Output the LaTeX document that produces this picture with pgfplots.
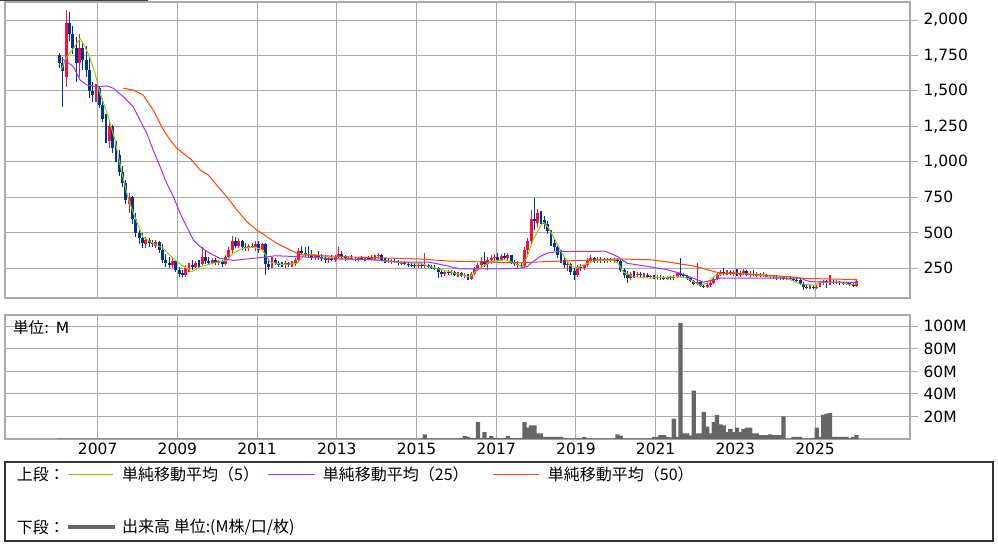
\documentclass[border=0pt]{standalone}
\usepackage{pgfplots}
\pgfplotsset{compat=1.18}
\usepackage{pgfplotstable}
\usepackage{fontspec}
\setmainfont{DejaVu Sans}
\newfontfamily\cjk{Noto Sans CJK JP}
\definecolor{upred}{RGB}{255,10,60}
\definecolor{downblue}{RGB}{0,51,153}
\definecolor{maA}{RGB}{153,204,0}
\definecolor{maB}{RGB}{153,51,255}
\definecolor{maC}{RGB}{255,69,0}
\definecolor{volgray}{RGB}{102,102,102}
\definecolor{gridgray}{RGB}{170,170,170}
\pgfplotstableread{
m o h l c
0 1750 1770 1660 1700
1 1700 1740 1390 1640
2 1600 2070 1530 1980
3 1980 2060 1850 1900
4 1900 1960 1760 1800
5 1800 1880 1560 1700
6 1700 1900 1600 1800
7 1800 1840 1650 1720
8 1720 1820 1600 1650
9 1650 1740 1450 1500
10 1500 1560 1420 1470
11 1470 1550 1420 1520
12 1520 1530 1380 1400
13 1400 1450 1280 1300
14 1300 1340 1130 1150
15 1150 1290 1100 1250
16 1250 1260 1060 1100
17 1100 1150 1000 1050
18 1050 1080 900 930
19 930 970 820 850
20 850 870 700 730
21 700 780 640 750
22 750 760 560 600
23 600 640 470 500
24 500 520 420 460
25 460 500 390 430
26 420 470 390 450
27 450 460 400 430
28 430 450 400 420
29 410 450 390 435
30 435 440 360 380
31 380 420 290 310
32 310 350 260 290
33 290 330 250 270
34 270 320 250 300
35 300 310 220 240
36 240 260 190 210
37 215 240 185 200
38 200 270 185 250
39 250 290 220 270
40 270 310 240 260
41 260 300 250 290
42 290 310 260 280
43 280 400 270 330
44 330 370 280 300
45 300 330 270 290
46 290 320 280 310
47 310 320 270 290
48 290 310 270 300
49 300 310 260 280
50 280 340 270 330
51 330 400 320 380
52 380 480 360 440
53 440 470 390 410
54 410 460 390 440
55 440 450 380 400
56 400 430 370 390
57 390 420 370 410
58 410 430 390 400
59 400 440 370 420
60 420 440 360 380
61 380 430 370 420
62 420 430 200 280
63 280 320 240 260
64 260 330 250 310
65 310 320 270 290
66 290 300 260 275
67 275 295 260 270
68 270 300 255 285
69 285 295 260 270
70 270 300 260 290
71 290 320 265 310
72 310 390 300 370
73 370 410 340 360
74 360 400 330 350
75 350 410 320 340
76 340 380 310 330
77 330 350 310 340
78 340 370 310 330
79 330 350 300 320
80 320 340 290 310
81 310 330 290 320
82 320 340 300 310
83 310 340 295 330
84 330 400 320 350
85 350 370 310 330
86 330 345 300 320
87 320 335 305 325
88 325 340 305 315
89 315 330 300 310
90 310 330 300 320
91 320 335 305 315
92 315 330 300 325
93 325 335 305 315
94 315 340 305 330
95 330 345 315 335
96 335 355 315 345
97 345 350 300 310
98 310 325 290 300
99 300 320 285 295
100 295 315 280 300
101 300 320 285 295
102 295 310 275 285
103 285 300 270 290
104 290 300 270 280
105 280 295 262 275
106 275 290 260 270
107 270 285 255 265
108 265 290 250 275
109 275 285 255 265
110 265 355 255 270
111 270 280 250 260
112 260 275 245 255
113 255 270 240 250
114 250 260 180 225
115 225 240 185 210
116 210 235 195 225
117 225 240 200 215
118 215 235 200 220
119 220 230 195 205
120 205 225 190 215
121 215 225 185 195
122 195 215 180 200
123 200 210 165 175
124 175 220 165 210
125 210 260 200 245
126 245 290 230 275
127 275 330 255 300
128 300 365 260 280
129 280 330 240 310
130 310 340 280 320
131 320 350 290 330
132 330 355 300 310
133 310 350 300 335
134 335 355 310 320
135 320 360 300 340
136 340 345 280 290
137 290 310 265 280
138 280 300 255 270
139 270 290 250 265
140 265 400 255 380
141 380 460 340 440
142 440 660 420 600
143 600 745 520 580
144 570 670 540 640
145 640 650 560 590
146 590 620 530 560
147 560 580 490 510
148 510 520 410 430
149 430 460 370 400
150 400 420 320 340
151 340 380 290 310
152 310 330 250 270
153 270 300 230 280
154 280 290 200 220
155 230 260 165 200
156 200 275 190 260
157 260 280 230 250
158 250 275 235 270
159 270 320 260 300
160 300 340 285 320
161 320 330 290 300
162 300 330 285 310
163 310 330 290 305
164 305 320 285 300
165 300 320 290 310
166 310 325 295 305
167 305 320 290 310
168 310 325 290 300
169 300 310 220 240
170 240 250 180 200
171 200 230 145 180
172 180 225 165 210
173 210 230 180 200
174 200 220 185 210
175 210 220 190 200
176 200 215 185 205
177 205 215 180 190
178 190 205 175 195
179 195 205 175 185
180 185 200 170 190
181 190 200 170 180
182 180 195 165 175
183 175 195 165 185
184 185 195 170 180
185 180 200 170 190
186 190 225 180 215
187 215 320 185 200
188 200 215 185 195
189 195 205 170 180
190 180 190 150 160
191 160 170 130 140
192 140 285 130 150
193 150 160 115 125
194 125 140 110 120
195 120 145 108 135
196 135 160 120 145
197 145 185 140 175
198 175 225 170 210
199 210 240 195 220
200 220 255 200 215
201 215 240 200 225
202 225 240 200 210
203 210 235 195 220
204 220 245 195 205
205 205 230 190 215
206 215 245 200 230
207 230 240 195 205
208 205 230 190 210
209 210 235 195 200
210 200 220 190 205
211 205 215 185 195
212 195 225 185 200
213 200 210 185 190
214 190 205 175 195
215 195 205 175 185
216 185 205 170 180
217 180 195 170 185
218 185 195 165 175
219 175 190 165 180
220 180 195 165 175
221 175 190 160 170
222 170 185 155 165
223 165 175 130 140
224 140 150 96 120
225 120 135 105 115
226 115 130 105 120
227 120 130 105 115
228 115 130 100 120
229 120 160 115 150
230 150 165 130 160
231 160 170 110 150
232 150 200 135 155
233 155 170 140 150
234 150 165 140 155
235 155 160 135 145
236 145 155 130 140
237 140 150 130 145
238 145 150 125 135
239 135 145 120 130
240 125 175 120 160
}\candles
\pgfplotsset{
  chartbase/.style={
    scale only axis, width=905pt,
    xmin=-16.41, xmax=256.1,
    xtick={11.5,35.5,...,227.5},
    grid=major,
    major grid style={gridgray, line width=1pt},
    axis line style={gridgray, line width=1.2pt},
    tick style={gridgray, line width=1pt},
    major tick length=8pt,
    xtick align=inside, ytick align=outside,
    xtick pos=bottom, ytick pos=right, yticklabel pos=right,
    /pgf/number format/assume math mode=true,
    /pgf/number format/1000 sep={,},
    yticklabel style={xshift=2pt, text=black},
    xticklabel style={text=black},
  },
  wick/.style={line width=1.1pt, forget plot, quiver={u=0, v=\thisrow{h}-\thisrow{l}}, -},
  body/.style={line width=2.9pt, forget plot, quiver={u=0, v=\thisrow{c}-\thisrow{o}}, -},
  upfilter/.style={restrict expr to domain={\thisrow{c}-\thisrow{o}}{0:100000}},
  downfilter/.style={restrict expr to domain={\thisrow{c}-\thisrow{o}}{-100000:-0.01}},
}
\begin{document}
\begin{tikzpicture}[font=\fontsize{15.5}{18}\selectfont]
\path[use as bounding box] (0pt,0pt) rectangle (998pt,-546pt);
\fill[black!75] (0pt,0pt) rectangle (148pt,-1.2pt);
\begin{axis}[chartbase,
  at={(5pt,-298pt)}, anchor=south west, height=296pt,
  ymin=40, ymax=2127,
  ytick={250,500,...,2000},
  xticklabels={},
]
\addplot[upred, wick, upfilter] table[x=m, y=l] {\candles};
\addplot[upred, body, upfilter] table[x=m, y=o] {\candles};
\addplot[downblue, wick, downfilter] table[x=m, y=l] {\candles};
\addplot[downblue, body, downfilter] table[x=m, y=o] {\candles};
% MA5
\addplot[maA, line width=1pt, mark=none] coordinates {
(0.45,1647) (2.2,1740) (4.2,1800) (6.2,1870) (7.7,1810) (9.2,1730) (10.7,1625) (12.2,1485) (14.3,1345) (16.7,1155) (18.8,920) (20.6,750) (22.7,610) (25.1,470) (28.2,425) (31.2,390) (34.2,320) (36.9,270) (39.9,225) (42.3,260) (46.2,285) (50.4,305) (52.2,355) (55.3,390) (58.3,400) (61.0,380) (63.4,295) (67.3,275) (71.5,285) (73.9,350) (76.9,345) (84.5,315) (93.5,310) (102.5,290) (108.5,285) (113.1,250) (117.6,225) (122.1,195) (123.6,190) (126.0,240) (129.6,295) (134.1,310) (137.2,285) (139.3,260) (140.8,330) (142.6,450) (144.7,540) (145.6,575) (147.1,540) (149.2,450) (151.3,355) (153.7,270) (155.8,250) (158.8,285) (161.8,305) (166.7,305) (168.2,285) (169.7,225) (172.7,190) (177.8,180) (186.0,190) (189.0,180) (192.9,130) (195.0,145) (197.4,200) (200.9,215) (204.9,215) (210.9,200) (216.9,185) (220.0,170) (222.9,140) (227.5,130) (229.0,150) (235.0,150) (238.0,135) (240.1,140)
};
% MA25
\addplot[maB, line width=1pt, mark=none] coordinates {
(0.65,1730) (2.2,1706) (4.2,1671) (6.2,1577) (8.2,1542) (11.2,1530) (14.2,1535) (16.2,1519) (19.2,1460) (22.2,1389) (24.2,1295) (26.3,1201) (28.2,1084) (30.3,966) (32.3,849) (34.3,755) (36.3,638) (38.3,543) (40.3,449) (42.3,402) (45.3,356) (48.3,320) (52.3,305) (56.4,315) (60.4,325) (62.5,330) (65,338) (71.4,332) (81.5,318) (95,310) (102.5,294) (111.5,292) (116.1,270) (120.6,245) (132.6,245) (138.7,250) (140.8,262) (142.6,297) (144.7,332) (146.8,356) (149.8,367) (164.2,370) (166.4,350) (168.2,330) (170.9,285) (177.8,260) (182.9,240) (186.8,215) (190.8,180) (193.8,152) (196.8,166) (198.9,180) (222.9,180) (226,155) (240.1,150)
};
% MA50
\addplot[maC, line width=1pt, mark=none] coordinates {
(19.2,1519) (22.2,1507) (25.2,1471) (28.2,1366) (31.3,1225) (33.3,1154) (35.3,1096) (37.3,1060) (39.8,1013) (42.3,943) (44.8,908) (47.3,837) (50.3,755) (53.4,661) (56.4,578) (59.4,520) (62.4,473) (65.4,426) (68.4,391) (71.4,356) (73.3,344) (87.5,330) (108.5,315) (117.6,300) (138.7,288) (144.7,295) (156.7,305) (168.8,315) (177.8,310) (182.9,295) (189.8,270) (192,260) (195,240) (198.9,215) (204.9,212) (213.9,200) (219.9,190) (224.5,178) (240.1,170)
};
\end{axis}
\begin{axis}[chartbase,
  at={(5pt,-439pt)}, anchor=south west, height=124pt,
  ymin=0, ymax=110,
  ytick={20,40,60,80,100},
  yticklabels={20M,40M,60M,80M,100M},
  xticklabels={2007,2009,2011,2013,2015,2017,2019,2021,2023,2025},
]
\addplot[ybar, bar width=1.3, fill=volgray, draw=none, mark=none] coordinates {
(0,0.4) (1,0.4) (2,0.4) (3,0.4) (4,0.4) (5,0.4) (6,0.4) (7,0.4) (8,0.4) (9,0.4)
(10,0.4) (11,0.4) (12,0.4) (13,0.4) (14,0.4) (15,0.4) (16,0.4) (17,0.4) (18,0.4) (19,0.4)
(20,0.4) (21,0.4) (22,0.4) (23,0.4) (24,0.4) (25,0.4) (26,0.4) (27,0.4) (28,0.4) (29,0.4)
(30,0.4) (31,0.4) (32,0.4) (33,0.4) (34,0.4) (35,0.4) (36,0.4) (37,0.4) (38,0.4) (39,0.4)
(40,0.4) (41,0.4) (42,0.4) (43,0.4) (44,0.4) (45,0.4) (46,0.4) (47,0.4) (48,0.4) (49,0.4)
(50,0.4) (51,0.4) (52,0.4) (53,0.4) (54,0.4) (55,0.4) (56,0.4) (57,0.4) (58,0.4) (59,0.4)
(60,0.4) (61,0.4) (62,0.4) (63,0.4) (64,0.4) (65,0.4) (66,0.4) (67,0.4) (68,0.4) (69,0.4)
(70,0.4) (71,0.4) (72,0.4) (73,0.4) (74,0.4) (75,0.4) (76,0.4) (77,0.4) (78,0.4) (79,0.4)
(80,0.4) (81,0.4) (82,0.4) (83,0.4) (84,0.4) (85,0.4) (86,0.4) (87,0.4) (88,0.4) (89,0.4)
(90,0.4) (91,0.4) (92,0.4) (93,0.4) (94,0.4) (95,0.4) (96,0.4) (97,0.4) (98,0.4) (99,0.4)
(100,0.4) (101,0.4) (102,0.4) (103,0.4) (104,0.4) (105,0.4) (106,0.4) (107,0.4) (108,0.4)
(109,0.5) (110,4) (111,0.5) (112,0.5) (113,0.5) (114,0.5) (115,0.5) (116,0.5) (117,0.5) (118,0.5) (119,0.5)
(120,0.5) (121,0.8) (122,2.5) (123,2) (124,0.8) (125,1) (126,15) (127,1) (128,6) (129,1)
(130,2.5) (131,0.8) (132,0.8) (133,0.8) (134,0.8) (135,2.5) (136,0.8) (137,0.8) (138,0.8) (139,1)
(140,15) (141,10) (142,12) (143,12) (144,5) (145,5) (146,2) (147,2) (148,2) (149,2)
(150,2) (151,2) (152,0.8) (153,0.6) (154,0.6) (155,0.6) (156,0.6) (157,0.6) (158,2) (159,0.6)
(160,0.5) (161,0.5) (162,0.5) (163,0.5) (164,0.5) (165,0.5) (166,0.5) (167,0.5) (168,4) (169,3)
(170,0.6) (171,0.6) (172,0.5) (173,0.5) (174,0.5) (175,0.5) (176,0.5) (177,0.5) (178,0.5) (179,2)
(180,2) (181,3.5) (182,3.5) (183,2) (184,1.5) (185,18) (186,2) (187,103) (188,5) (189,5)
(190,3) (191,43) (192,5) (193,5) (194,24) (195,11) (196,5) (197,15) (198,21.5) (199,13)
(200,12) (201,6) (202,9) (203,6) (204,10) (205,6) (206,9) (207,10) (208,10) (209,5)
(210,5) (211,3.5) (212,3.5) (213,3.5) (214,4) (215,3.5) (216,3.5) (217,3.5) (218,20) (219,0.5)
(220,0.5) (221,2) (222,2) (223,2) (224,0.5) (225,0.5) (226,0.5) (227,1) (228,10) (229,2)
(230,21.5) (231,22.5) (232,23) (233,2) (234,2) (235,2) (236,2) (237,2) (238,0.8) (239,2)
(240,3.5)
};
\end{axis}
\begin{scope}[x=1pt, y=1pt]
\node[anchor=west, inner sep=0pt] at (13,-328) {{\cjk 単位}: M};
\draw[black!80, line width=1.2pt] (5,-462) rectangle (993,-541);
\begin{scope}[font=\fontsize{16}{19}\selectfont]
\node[anchor=west, inner sep=0pt] at (16.7,-474) {\cjk 上段：};
\draw[maA, line width=1pt] (68,-474) -- (113,-474);
\node[anchor=west, inner sep=0pt] at (122,-474) {\cjk 単純移動平均（5）};
\draw[maB, line width=1pt] (268,-474) -- (315,-474);
\node[anchor=west, inner sep=0pt] at (322.7,-474) {\cjk 単純移動平均（25）};
\draw[maC, line width=1pt] (493,-474) -- (539,-474);
\node[anchor=west, inner sep=0pt] at (547.7,-474) {\cjk 単純移動平均（50）};
\node[anchor=west, inner sep=0pt] at (16.7,-527) {\cjk 下段：};
\draw[volgray, line width=4pt] (68,-527) -- (115,-527);
\node[anchor=west, inner sep=0pt] at (122,-527) {\cjk 出来高 単位:(M株/口/枚)};
\end{scope}
\end{scope}
\end{tikzpicture}
\end{document}
